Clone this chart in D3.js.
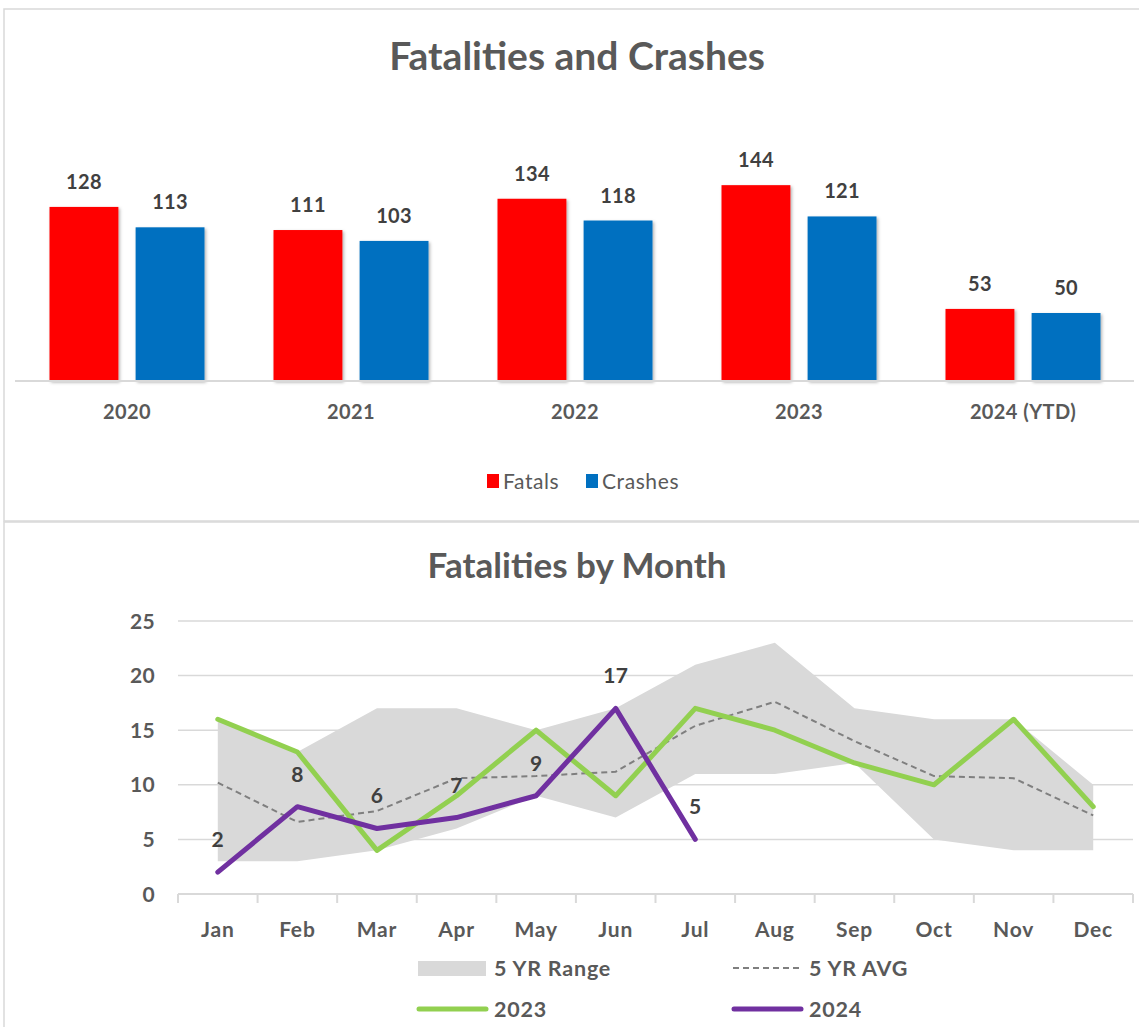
<!DOCTYPE html>
<html>
<head>
<meta charset="utf-8">
<script src="https://cdn.jsdelivr.net/npm/d3@7"></script>
<style>
  body { margin: 0; background: #fff; }
  text { font-family: Lato, "Open Sans", sans-serif; }
</style>
</head>
<body>
<div id="chart"></div>
<script>
// ---- data ----
var years = ["2020", "2021", "2022", "2023", "2024 (YTD)"];
var fatals = [128, 111, 134, 144, 53];
var crashes = [113, 103, 118, 121, 50];

var months = ["Jan", "Feb", "Mar", "Apr", "May", "Jun", "Jul", "Aug", "Sep", "Oct", "Nov", "Dec"];
var rangeLow = [3, 3, 4, 6, 9, 7, 11, 11, 12, 5, 4, 4];
var rangeHigh = [16, 13, 17, 17, 15, 17, 21, 23, 17, 16, 16, 10];
var avg5yr = [10.2, 6.6, 7.6, 10.6, 10.8, 11.2, 15.4, 17.6, 14.0, 10.8, 10.6, 7.2];
var y2023 = [16, 13, 4, 9, 15, 9, 17, 15, 12, 10, 16, 8];
var y2024 = [2, 8, 6, 7, 9, 17, 5];
var yTicks = [0, 5, 10, 15, 20, 25];

var W = 1139, H = 1027;
var textGray = "#595959", labelGray = "#404040", gridGray = "#d9d9d9";

var svg = d3.select("#chart")
    .append("svg")
    .attr("width", W)
    .attr("height", H);

var defs = svg.append("defs");
var shadow = defs.append("filter")
    .attr("id", "shadow")
    .attr("x", "-20%").attr("y", "-20%")
    .attr("width", "140%").attr("height", "140%");
shadow.append("feDropShadow")
    .attr("dx", 1.5).attr("dy", 1.5)
    .attr("stdDeviation", 1.5)
    .attr("flood-color", "#000")
    .attr("flood-opacity", 0.3);

// chart frames
svg.append("rect")
    .attr("x", 4).attr("y", 9)
    .attr("width", W + 10).attr("height", 512)
    .attr("fill", "none").attr("stroke", gridGray).attr("stroke-width", 1.5);
svg.append("rect")
    .attr("x", 4).attr("y", 522)
    .attr("width", W + 10).attr("height", 520)
    .attr("fill", "none").attr("stroke", gridGray).attr("stroke-width", 1.5);

// ================= top chart: Fatalities and Crashes =================
var topG = svg.append("g");

topG.append("text")
    .attr("x", 577).attr("y", 70)
    .attr("text-anchor", "middle")
    .attr("fill", textGray)
    .style("font-size", "39px").style("font-weight", "bold")
    .text("Fatalities and Crashes");

var x0 = d3.scaleBand().domain(years).range([15, 1135]);
var x1 = d3.scaleBand().domain(["Fatals", "Crashes"])
    .range([34.5, x0.bandwidth() - 34.5]).paddingInner(0.2);
var yTop = d3.scaleLinear().domain([0, 160]).range([381, 381 - 160 * 1.36]);

var groups = topG.selectAll(".grp")
    .data(years)
    .enter()
    .append("g")
    .attr("class", "grp")
    .attr("transform", function (d) { return "translate(" + x0(d) + ",0)"; });

var seriesTop = [
    { key: "Fatals", values: fatals, color: "#ff0000" },
    { key: "Crashes", values: crashes, color: "#0070c0" }
];

seriesTop.forEach(function (s) {
    groups.append("rect")
        .attr("x", x1(s.key))
        .attr("width", x1.bandwidth())
        .attr("y", function (d, i) { return yTop(s.values[i]); })
        .attr("height", function (d, i) { return yTop(0) - yTop(s.values[i]); })
        .attr("fill", s.color)
        .attr("filter", "url(#shadow)");

    groups.append("text")
        .attr("x", x1(s.key) + x1.bandwidth() / 2)
        .attr("y", function (d, i) { return yTop(s.values[i]) - 18; })
        .attr("text-anchor", "middle")
        .attr("fill", labelGray)
        .style("font-size", "20px").style("font-weight", "bold")
        .style("letter-spacing", "0.3px")
        .text(function (d, i) { return s.values[i]; });
});

// baseline axis
topG.append("line")
    .attr("x1", 15).attr("x2", 1134)
    .attr("y1", yTop(0)).attr("y2", yTop(0))
    .attr("stroke", gridGray).attr("stroke-width", 2);

topG.selectAll(".cat")
    .data(years)
    .enter()
    .append("text")
    .attr("class", "cat")
    .attr("x", function (d) { return x0(d) + x0.bandwidth() / 2; })
    .attr("y", 419)
    .attr("text-anchor", "middle")
    .attr("fill", textGray)
    .style("font-size", "20px").style("font-weight", "bold")
    .style("letter-spacing", "0.4px")
    .text(function (d) { return d; });

// legend
var legTop = [
    { key: "Fatals", color: "#ff0000", x: 487 },
    { key: "Crashes", color: "#0070c0", x: 586 }
];
var lt = topG.selectAll(".legtop")
    .data(legTop)
    .enter()
    .append("g")
    .attr("class", "legtop")
    .attr("transform", function (d) { return "translate(" + d.x + ",474)"; });
lt.append("rect")
    .attr("width", 12).attr("height", 14)
    .attr("fill", function (d) { return d.color; });
lt.append("text")
    .attr("x", 16).attr("y", 14.5)
    .attr("fill", textGray)
    .style("font-size", "21px")
    .style("letter-spacing", "0.6px")
    .text(function (d) { return d.key; });

// ================= bottom chart: Fatalities by Month =================
var bot = svg.append("g");

bot.append("text")
    .attr("x", 577).attr("y", 577.5)
    .attr("text-anchor", "middle")
    .attr("fill", textGray)
    .style("font-size", "35px").style("font-weight", "bold")
    .text("Fatalities by Month");

var xm = d3.scaleBand().domain(months).range([178, 1133]);
var ym = d3.scaleLinear().domain([0, 25]).range([894, 621]);
function cx(i) { return xm(months[i]) + xm.bandwidth() / 2; }

// gridlines
bot.selectAll(".grid")
    .data(yTicks.slice(1))
    .enter()
    .append("line")
    .attr("x1", 178).attr("x2", 1133)
    .attr("y1", function (d) { return ym(d); })
    .attr("y2", function (d) { return ym(d); })
    .attr("stroke", gridGray).attr("stroke-width", 1.5);

// y labels
bot.selectAll(".ylab")
    .data(yTicks)
    .enter()
    .append("text")
    .attr("x", 155)
    .attr("y", function (d) { return ym(d); })
    .attr("dy", "0.36em")
    .attr("text-anchor", "end")
    .attr("fill", textGray)
    .style("font-size", "21px").style("font-weight", "bold")
    .style("letter-spacing", "0.3px")
    .text(function (d) { return d; });

// x axis
var xAxis = bot.append("g")
    .attr("transform", "translate(0," + ym(0) + ")");
xAxis.append("line")
    .attr("x1", 178).attr("x2", 1133)
    .attr("stroke", gridGray).attr("stroke-width", 2);
xAxis.selectAll(".tick")
    .data(d3.range(months.length + 1))
    .enter()
    .append("line")
    .attr("x1", function (i) { return 178 + i * xm.bandwidth(); })
    .attr("x2", function (i) { return 178 + i * xm.bandwidth(); })
    .attr("y1", 0).attr("y2", 9)
    .attr("stroke", gridGray).attr("stroke-width", 2);
xAxis.selectAll(".mlab")
    .data(months)
    .enter()
    .append("text")
    .attr("x", function (d, i) { return cx(i); })
    .attr("y", 42.5)
    .attr("text-anchor", "middle")
    .attr("fill", textGray)
    .style("font-size", "21px").style("font-weight", "bold")
    .style("letter-spacing", "0.8px")
    .text(function (d) { return d; });

// 5 yr range
var area = d3.area()
    .x(function (d, i) { return cx(i); })
    .y0(function (d, i) { return ym(rangeLow[i]); })
    .y1(function (d, i) { return ym(rangeHigh[i]); });
bot.append("path")
    .datum(months)
    .attr("d", area)
    .attr("fill", "#d9d9d9");

var line = d3.line()
    .x(function (d, i) { return cx(i); })
    .y(function (d) { return ym(d); });

bot.append("path")
    .datum(avg5yr)
    .attr("d", line)
    .attr("fill", "none")
    .attr("stroke", "#7f7f7f")
    .attr("stroke-width", 2)
    .attr("stroke-dasharray", "6,4");

bot.append("path")
    .datum(y2023)
    .attr("d", line)
    .attr("fill", "none")
    .attr("stroke", "#92d050")
    .attr("stroke-width", 5)
    .attr("stroke-linejoin", "round")
    .attr("stroke-linecap", "round");

bot.append("path")
    .datum(y2024)
    .attr("d", line)
    .attr("fill", "none")
    .attr("stroke", "#7030a0")
    .attr("stroke-width", 5)
    .attr("stroke-linejoin", "round")
    .attr("stroke-linecap", "round");

bot.selectAll(".lab24")
    .data(y2024)
    .enter()
    .append("text")
    .attr("x", function (d, i) { return cx(i); })
    .attr("y", function (d) { return ym(d) - 25; })
    .attr("text-anchor", "middle")
    .attr("fill", labelGray)
    .style("font-size", "21px").style("font-weight", "bold")
    .style("letter-spacing", "0.3px")
    .text(function (d) { return d; });

// legend
var leg = bot.append("g");
leg.append("rect")
    .attr("x", 418).attr("y", 961)
    .attr("width", 68).attr("height", 15)
    .attr("fill", "#d9d9d9");
leg.append("line")
    .attr("x1", 733).attr("x2", 802).attr("y1", 968).attr("y2", 968)
    .attr("stroke", "#7f7f7f").attr("stroke-width", 2)
    .attr("stroke-dasharray", "6,4");
leg.append("line")
    .attr("x1", 419).attr("x2", 486).attr("y1", 1009).attr("y2", 1009)
    .attr("stroke", "#92d050").attr("stroke-width", 5).attr("stroke-linecap", "round");
leg.append("line")
    .attr("x1", 734).attr("x2", 801).attr("y1", 1009).attr("y2", 1009)
    .attr("stroke", "#7030a0").attr("stroke-width", 5).attr("stroke-linecap", "round");

var legText = [
    { t: "5 YR Range", x: 494, y: 975.5 },
    { t: "5 YR AVG", x: 809, y: 975.5 },
    { t: "2023", x: 494, y: 1016.5 },
    { t: "2024", x: 809, y: 1016.5 }
];
leg.selectAll(".lt")
    .data(legText)
    .enter()
    .append("text")
    .attr("x", function (d) { return d.x; })
    .attr("y", function (d) { return d.y; })
    .attr("fill", textGray)
    .style("font-size", "21.5px").style("font-weight", "bold")
    .style("letter-spacing", "0.8px")
    .text(function (d) { return d.t; });
</script>
</body>
</html>
